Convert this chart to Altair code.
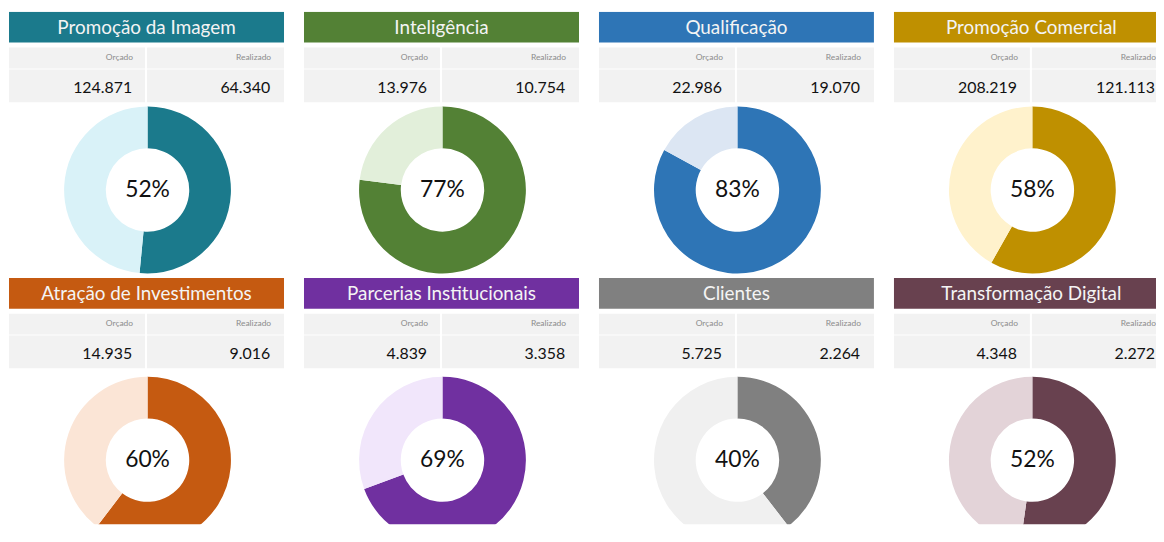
import altair as alt
import pandas as pd

# ---- data ----
nomes = ["Promoção da Imagem", "Inteligência", "Qualificação", "Promoção Comercial",
         "Atração de Investimentos", "Parcerias Institucionais", "Clientes", "Transformação Digital"]
orcado = [124871, 13976, 22986, 208219, 14935, 4839, 5725, 4348]
realizado = [64340, 10754, 19070, 121113, 9016, 3358, 2264, 2272]
cor_escura = ["#1b7a8c", "#538135", "#2e75b6", "#bf9000",
              "#c55a11", "#7030a0", "#808080", "#68414f"]
cor_clara = ["#d9f2f8", "#e2efda", "#dce6f3", "#fff2cc",
             "#fbe5d6", "#f1e6fb", "#f0f0f0", "#e3d3d8"]

df = pd.DataFrame({
    "idx": list(range(len(nomes))),
    "nome": nomes,
    "orcado": orcado,
    "realizado": realizado,
    "cor": cor_escura,
    "cor_clara": cor_clara,
})

PW = 277          # full panel width
FONT = "Lato"
CELL = "#f2f2f2"


def panel(i, w, h, cy):
    cx = 139.5
    base = alt.Chart(df).transform_filter(alt.datum.idx == i).transform_calculate(
        orc_txt="replace(format(datum.orcado, ',d'), ',', '.')",
        real_txt="replace(format(datum.realizado, ',d'), ',', '.')",
        pct_txt="format(datum.realizado / datum.orcado, '.0%')",
    )
    header = base.mark_rect(clip=True).encode(
        x=alt.value(0), x2=alt.value(w), y=alt.value(0), y2=alt.value(31),
        color=alt.Color("cor:N", scale=None),
    )
    header_txt = base.mark_text(font=FONT, fontSize=19, color="#f4f4f4",
                                baseline="middle", clip=True).encode(
        x=alt.value(PW / 2), y=alt.value(16), text="nome:N",
    )
    cells = [
        base.mark_rect(color=CELL, clip=True).encode(x=alt.value(0), x2=alt.value(137), y=alt.value(36), y2=alt.value(57)),
        base.mark_rect(color=CELL, clip=True).encode(x=alt.value(139), x2=alt.value(w), y=alt.value(36), y2=alt.value(57)),
        base.mark_rect(color=CELL, clip=True).encode(x=alt.value(0), x2=alt.value(137), y=alt.value(58), y2=alt.value(91)),
        base.mark_rect(color=CELL, clip=True).encode(x=alt.value(139), x2=alt.value(w), y=alt.value(58), y2=alt.value(91)),
    ]
    lbl = dict(font=FONT, fontSize=8.5, color="#8c8c8c", align="right", baseline="middle", clip=True)
    lbl_orc = base.mark_text(**lbl).encode(x=alt.value(125), y=alt.value(45.5), text=alt.value("Orçado"))
    lbl_real = base.mark_text(**lbl).encode(x=alt.value(264), y=alt.value(45.5), text=alt.value("Realizado"))
    val = dict(font=FONT, fontSize=16, color="#111111", align="right", baseline="middle", clip=True)
    val_orc = base.mark_text(**val).encode(x=alt.value(124), y=alt.value(77), text="orc_txt:N")
    val_real = base.mark_text(**val).encode(x=alt.value(263), y=alt.value(77), text="real_txt:N")

    donut = base.transform_calculate(
        f_real="datum.realizado / datum.orcado",
        f_rest="1 - datum.realizado / datum.orcado",
    ).transform_fold(
        ["f_real", "f_rest"], as_=["parte", "frac"]
    ).transform_calculate(
        ordem="datum.parte == 'f_real' ? 0 : 1",
        fill="datum.parte == 'f_real' ? datum.cor : datum.cor_clara",
    ).mark_arc(innerRadius=42, outerRadius=84, clip=True).encode(
        theta=alt.Theta("frac:Q", stack=True, scale=alt.Scale(domain=[0, 1])),
        order=alt.Order("ordem:Q"),
        color=alt.Color("fill:N", scale=None),
        x=alt.value(cx), y=alt.value(cy),
    )
    pct = base.mark_text(font=FONT, fontSize=23, color="#111111", baseline="middle", clip=True).encode(
        x=alt.value(cx), y=alt.value(cy), text="pct_txt:N")

    return alt.layer(header, header_txt, *cells, lbl_orc, lbl_real, val_orc, val_real,
                     donut, pct).properties(width=w, height=h)


widths = [PW, PW, PW, 264]
row1 = alt.hconcat(*[panel(c, widths[c], 268, 179.5) for c in range(4)], spacing=20)
row2 = alt.hconcat(*[panel(4 + c, widths[c], 248, 183.5) for c in range(4)], spacing=20)

chart = alt.vconcat(row1, row2, spacing=0).properties(
    padding={"left": 1, "top": 2, "right": 0, "bottom": 0},
).configure(background="white").configure_view(strokeWidth=0)

chart.save("out.html", embed_options={"renderer": "svg", "actions": False})
